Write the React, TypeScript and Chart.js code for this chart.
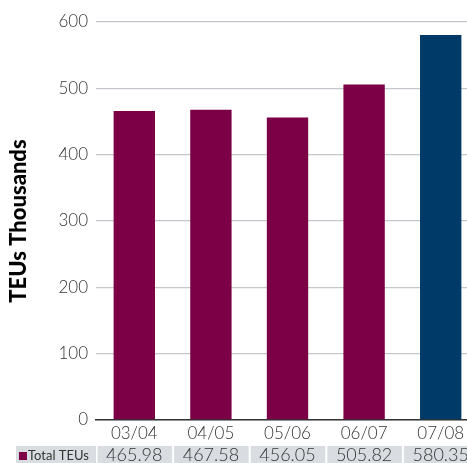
import { useEffect, useRef } from 'react';
import { Chart, registerables } from 'chart.js';

Chart.register(...registerables);

// Financial years and container throughput (thousand TEUs)
const categories = ['03/04', '04/05', '05/06', '06/07', '07/08'];
const totalTeus = [465.98, 467.58, 456.05, 505.82, 580.35];
const barColors = ['#7b0046', '#7b0046', '#7b0046', '#7b0046', '#003a68'];
const seriesLabel = 'Total TEUs';
const yMax = 600;
const yStep = 100;

const FONT = 'Lato, "Open Sans", sans-serif';
const TEXT = '#333';

// Draws the data table row (legend key + values) beneath the category axis
const dataTablePlugin = {
  id: 'dataTable',
  afterDraw(chart: any) {
    const { ctx } = chart;
    const x = chart.scales.x;
    const top = 446;
    const h = 17;
    const step = x.getPixelForValue(1) - x.getPixelForValue(0);
    ctx.save();
    ctx.fillStyle = '#d9dde1';
    ctx.fillRect(16, top, x.left - 16, h);
    categories.forEach((_, i) => {
      const c = x.getPixelForValue(i);
      ctx.fillRect(c - step / 2 + 1.5, top, step - 2, h);
    });
    // legend key
    ctx.fillStyle = barColors[0];
    ctx.fillRect(19, top + 6, 8, 8);
    ctx.fillStyle = TEXT;
    ctx.textBaseline = 'middle';
    ctx.textAlign = 'left';
    ctx.font = `13px ${FONT}`;
    ctx.fillText(seriesLabel, 28, top + h / 2 + 1);
    ctx.textAlign = 'center';
    ctx.font = `300 18px ${FONT}`;
    totalTeus.forEach((v, i) => {
      ctx.fillText(v.toFixed(2), x.getPixelForValue(i), top + h / 2 + 1);
    });
    ctx.restore();
  },
};

export default function App() {
  const canvasRef = useRef<HTMLCanvasElement>(null);

  useEffect(() => {
    if (!canvasRef.current) return;
    const chart = new Chart(canvasRef.current, {
      type: 'bar',
      data: {
        labels: categories,
        datasets: [
          {
            label: seriesLabel,
            data: totalTeus,
            backgroundColor: barColors,
            barPercentage: 0.54,
            categoryPercentage: 1,
          },
        ],
      },
      options: {
        animation: false,
        responsive: false,
        devicePixelRatio: 1,
        layout: { padding: { top: 22, left: 0, right: 0, bottom: 0 } },
        plugins: {
          legend: { display: false },
          tooltip: { enabled: false },
        },
        scales: {
          x: {
            grid: { display: false, drawTicks: false },
            border: { display: true, color: '#333', width: 1.5 },
            ticks: {
              color: TEXT,
              font: { family: FONT, size: 17, weight: '300' },
              padding: 3,
            },
            afterFit(scale: any) {
              scale.height = 43;
            },
          },
          y: {
            min: 0,
            max: yMax,
            ticks: {
              stepSize: yStep,
              color: TEXT,
              font: { family: FONT, size: 17, weight: '300' },
              padding: 8,
            },
            grid: { color: '#c4c8cc', drawTicks: false, lineWidth: 1.3 },
            border: { display: false },
            title: {
              display: true,
              text: 'TEUs Thousands',
              color: '#000',
              font: { family: FONT, size: 22, weight: '900' },
              padding: { top: 6, bottom: 0 },
            },
            afterFit(scale: any) {
              scale.width = 96;
            },
          },
        },
      },
      plugins: [dataTablePlugin],
    });
    return () => chart.destroy();
  }, []);

  return (
    <div
      style={{
        position: 'fixed',
        left: 0,
        top: 0,
        width: 467,
        height: 463,
        overflow: 'hidden',
        background: '#fff',
      }}
    >
      <canvas ref={canvasRef} width={479} height={463} />
    </div>
  );
}
